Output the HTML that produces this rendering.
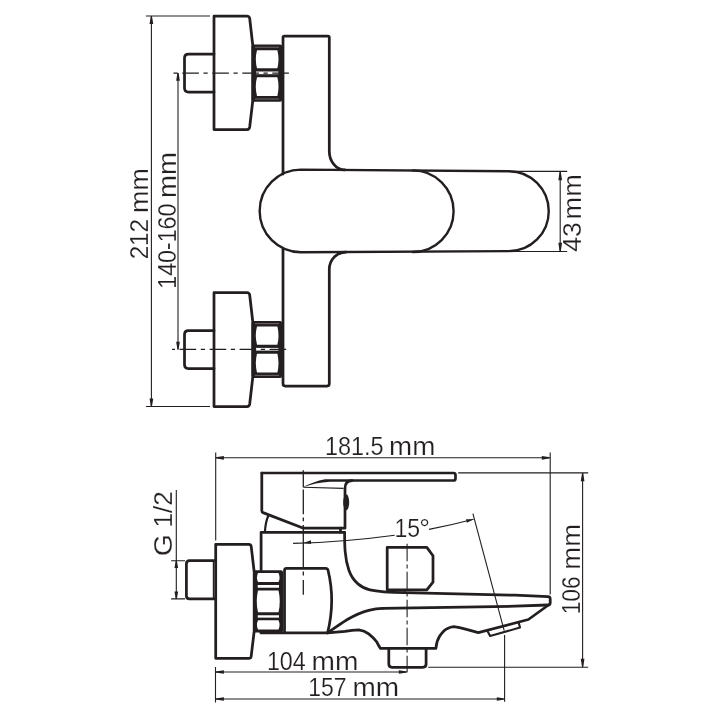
<!DOCTYPE html>
<html><head><meta charset="utf-8">
<style>
html,body{margin:0;padding:0;background:#fff;}
svg{display:block;will-change:transform}
text{font-family:"Liberation Sans",sans-serif;font-size:26.5px;fill:#231f20;stroke:#fff;stroke-width:0.2px;}
.m{fill:none;stroke:#231f20;stroke-width:2.75;stroke-linejoin:round;stroke-linecap:round}
.t{fill:none;stroke:#231f20;stroke-width:1.1}
.c{fill:none;stroke:#231f20;stroke-width:1.1;stroke-dasharray:16.6 4.6 4.2 4.6;stroke-dashoffset:22.4}
.a{fill:#231f20;stroke:none}
.k{fill:#231f20;stroke:none}
.w{fill:#fff;stroke:none}
</style></head>
<body>
<svg width="719" height="719" viewBox="0 0 719 719">
<rect width="719" height="719" fill="#fff"/>

<!-- ================= TOP VIEW ================= -->
<g id="top">
<!-- flanges -->
<path class="m" d="M214,16 H247 Q249.3,16 249.7,18.5 L252.8,45.5 V100.5 L249.7,127 Q249.3,129.5 247,129.5 H214 Z"/>
<path class="m" d="M214,292.5 H247 Q249.3,292.5 249.7,295 L252.8,322 V377 L249.7,404 Q249.3,406.5 247,406.5 H214 Z"/>
<!-- stubs -->
<path class="m" d="M214,54 H188.5 Q184.5,54 184.5,58 V88 Q184.5,92 188.5,92 H214"/>
<path class="m" d="M214,330.5 H188.5 Q184.5,330.5 184.5,334.5 V364.5 Q184.5,368.5 188.5,368.5 H214"/>
<!-- nuts -->
<g>
<rect class="k" x="251.5" y="44.6" width="30.6" height="57.1" rx="2"/>
<path class="w" d="M257,50.2 H277.4 Q279.6,59.2 277.4,68.3 H257 Q254.6,59.2 257,50.2Z"/>
<rect class="w" x="256" y="71.5" width="22.4" height="2.7"/>
<path class="w" d="M257,77.3 H277.4 Q279.6,86.7 277.4,96.1 H257 Q254.6,86.7 257,77.3Z"/>
<path d="M255,47.25 H279 M255,99 H279" stroke="#8c8785" stroke-width="0.7" fill="none"/>
</g>
<g transform="translate(0,276.4)">
<rect class="k" x="251.5" y="44.6" width="30.6" height="57.1" rx="2"/>
<path class="w" d="M257,50.2 H277.4 Q279.6,59.2 277.4,68.3 H257 Q254.6,59.2 257,50.2Z"/>
<rect class="w" x="256" y="71.5" width="22.4" height="2.7"/>
<path class="w" d="M257,77.3 H277.4 Q279.6,86.7 277.4,96.1 H257 Q254.6,86.7 257,77.3Z"/>
<path d="M255,47.25 H279 M255,99 H279" stroke="#8c8785" stroke-width="0.7" fill="none"/>
</g>
<!-- body -->
<path class="m" d="M283,174 V37.5 Q283,36.2 284.3,36.2 H328 Q329.3,36.2 329.3,37.5 V150.9 A15.6,18.9 0 0 0 344.9,169.9"/>
<path class="m" d="M283,248.5 V383.8 Q283,386 285.2,386 H327.1 Q329.3,386 329.3,383.8 V269.3 A16.7,17.2 0 0 1 346,252.1"/>
<!-- handle -->
<path class="m" style="stroke-width:2.4" d="M301,169.6 L508.8,171.2 A39.9,39.9 0 0 1 508.8,251.1 L301,252.3 A41.3,41.3 0 0 1 301,169.6 Z"/>
<path class="m" style="stroke-width:2.4" d="M412.8,170.4 A40.7,40.7 0 0 1 412.8,252"/>
<!-- center lines -->
<path class="c" style="stroke-dashoffset:20.4" d="M172.7,73.1 H290.6"/>
<path class="c" d="M172,349.4 H286.7"/>
<!-- dims -->
<path class="t" d="M145.9,16 H210 M145.9,406.5 H210 M151.4,16 V406.5 M178,73 V349.5"/>
<path class="a" d="M150.85,16 L149.55,24 H153.25 L151.95000000000002,16Z M150.85,406.5 L149.55,398.5 H153.25 L151.95000000000002,406.5Z M177.45,73.1 L176.15,80.69999999999999 H179.85 L178.55,73.1Z M177.45,349.4 L176.15,341.79999999999995 H179.85 L178.55,349.4Z"/>
<path class="t" d="M509,171.4 H567.2 M509,251.5 H567.2 M560.2,171.5 V251.5"/>
<path class="a" d="M559.6500000000001,171.4 L558.35,180.20000000000002 H562.0500000000001 L560.75,171.4Z M559.6500000000001,251.5 L558.35,242.7 H562.0500000000001 L560.75,251.5Z"/>
</g>

<!-- ================= SIDE VIEW ================= -->
<g id="side">
<!-- flange -->
<path class="m" d="M215.7,544.25 H248.7 Q250.9,544.25 251.2,546.4 L254.2,572 V631 L251.2,656.2 Q250.9,658.3 248.7,658.3 H215.7 Z"/>
<!-- stub -->
<path class="m" d="M215.7,560.7 H189.6 Q186.4,560.7 186.4,563.9 V595.7 Q186.4,598.9 189.6,598.9 H215.7"/>
<path class="m" style="stroke-width:1.6" d="M213.6,561 V598.6"/>
<!-- nut -->
<rect class="k" x="253.5" y="570.2" width="29.5" height="62.3" rx="2"/>
<path class="w" d="M258,573 H278.5 Q280.6,577.5 278.5,582 H258 Q255.9,577.5 258,573Z"/>
<rect class="w" x="257.75" y="585" width="21.25" height="2.75"/>
<path class="w" d="M258,590.5 H278.5 Q281,601.5 278.5,612.25 H258 Q255.5,601.5 258,590.5Z"/>
<rect class="w" x="257.75" y="615.25" width="21.25" height="2.4"/>
<path class="w" d="M258,620.25 H278.5 Q280.6,625 278.5,629.5 H258 Q255.9,625 258,620.25Z"/>
<!-- body block -->
<path class="m" d="M284.5,632.8 V570.5 Q284.5,568.4 286.6,568.4 H325.5 Q327.6,568.4 328.1,570.5 Q335.5,601 327.6,632.8 H260.8"/>
<!-- cylinder above -->
<path class="m" d="M261.1,570 V532.25 H344.6"/>
<path class="m" d="M344.6,532.25 C344.6,545 344.6,558 348.9,570.3 C353,582 362,588.3 369.8,589.8 C377,591.4 384,592.3 404.5,592.7"/>
<!-- handle -->
<path class="m" style="stroke-width:2.7" d="M261.8,473 H453.5 Q455.5,473 455.5,475 V478.5 Q455.5,480.5 453.5,480.5 L352,480.5"/>
<path class="m" d="M352,480.5 Q345,480.5 345,488.4 V528.2 H303.5 L263,512.6 Q261.8,512 261.8,510.5 V473"/>
<path class="m" d="M340.5,528.2 V532.2"/>
<path class="k" d="M303.1,487.3 Q313,481.6 325.1,479.3 H352 V481.8 H330 Q315,482.6 303.1,487.3Z"/>
<path class="t" style="stroke-width:1.3" d="M303.3,470.3 V487.3"/><path class="t" d="M303.3,487.3 L343.5,488.4"/>
<path class="m" style="stroke-width:2.2" d="M265,530.8 Q265.6,522 268.1,516.2"/>
<ellipse class="k" cx="346.2" cy="502.3" rx="3" ry="8"/>
<!-- diverter -->
<path class="m" d="M387.2,589.8 V547.4 H426.8 L433,555.7 V582.2 L426.8,589.8 Z"/>
<!-- spout -->
<path class="m" style="stroke-width:2.8" d="M404.5,592.7 L515,595.2 L548,596.6 Q550.2,596.7 550.2,599 V602.7 Q550.2,604.9 548,605 L515,606.2 L415,607.9 L382.6,608.3"/>
<path class="m" d="M327.6,632.8 C335,628 341,623.3 347.8,619.3 C355,615 362,612 368.7,610.3 C374,609 378,608.4 382.6,608.3"/>
<path class="m" d="M327.6,632.8 L345,631.4 Q352,630 358.9,629.8 Q364.5,630.5 368.7,633.9 Q374,638 377,642.3 Q379,646.5 380.5,648.4 H435.9 Q436.5,641 440,635.6 Q444,630 447,628.7 Q450.5,626.7 453.9,626.6 Q459,627 466.5,629.4 L478.3,632.6 L528.4,619.5 L548.5,605"/>
<!-- aerator -->
<path class="m" style="stroke-width:2.1" d="M487.3,630.8 L490.1,636 L520,627.6 L518.8,623"/>
<!-- shower outlet -->
<path class="m" d="M388.8,648.4 V664.1 Q388.8,667.3 392,667.3 H423 Q426.1,667.3 426.1,664.1 V648.4"/>
<!-- centre lines -->
<path class="c" style="stroke-dasharray:none;stroke-width:1.3" d="M303.3,489.4 V514.2 M303.3,517.6 V521.3 M303.3,525 V568 M303.3,571.4 V575.6 M303.3,580 V594.7"/>
<path class="c" style="stroke-dasharray:17.5 3.3 3.9 3.3;stroke-dashoffset:0" d="M407.1,543.8 V672.3"/>
<!-- dims -->
<path class="t" d="M215.7,452.5 V540.5 M215.5,667 V702.4 M550.2,452.5 V594.5 M216,457.8 H549 M458.2,472.9 H588.2 M428.2,667.2 H588.2 M582.6,473 V667 M216,672 H406 M216,699 H503.5 M504.6,635 V701.8 M472.9,513.7 L504.2,630.6"/>
<path class="a" d="M215.5,457.25 L223.9,455.95 V459.65000000000003 L215.5,458.35Z M550.2,457.25 L541.8000000000001,455.95 V459.65000000000003 L550.2,458.35Z M582.0500000000001,472.9 L580.75,481.29999999999995 H584.45 L583.15,472.9Z M582.0500000000001,667.2 L580.75,658.8000000000001 H584.45 L583.15,667.2Z M215.5,671.45 L223.9,670.15 V673.85 L215.5,672.55Z M407.2,671.45 L398.8,670.15 V673.85 L407.2,672.55Z M215.5,698.45 L223.9,697.15 V700.85 L215.5,699.55Z M504.6,698.45 L496.8,697.15 V700.85 L504.6,699.55Z"/>
<!-- G 1/2 -->
<path class="t" d="M176.3,490 V598.9 M171.1,560.7 H185 M171.1,598.9 H185"/>
<path class="a" d="M175.75,560.7 L174.45000000000002,568.1 H178.15 L176.85000000000002,560.7Z M175.75,598.9 L174.45000000000002,591.5 H178.15 L176.85000000000002,598.9Z"/>
<!-- 15 deg arc -->
<path class="t" d="M293.1,543.4 Q345,542 394.7,535.2 M429,529.4 Q452,525 473.5,519.3"/>
<path class="a" d="M303.3,542.9 l7.6,-2.6 l0.2,3.6z M473.6,519.3 l-7.6,-0.1 l0.9,3.6z"/>
</g>
<!--TEXT-->
<text x="324.91" y="455.00" font-size="25.43" textLength="58.67" lengthAdjust="spacingAndGlyphs">181.5</text>
<text x="389.11" y="455.00" font-size="25.43" textLength="46.22" lengthAdjust="spacingAndGlyphs">mm</text>
<text x="266.93" y="669.80" font-size="25.43" textLength="38.86" lengthAdjust="spacingAndGlyphs">104</text>
<text x="311.53" y="669.80" font-size="25.43" textLength="46.82" lengthAdjust="spacingAndGlyphs">mm</text>
<text x="308.25" y="696.20" font-size="25.43" textLength="38.30" lengthAdjust="spacingAndGlyphs">157</text>
<text x="352.44" y="696.20" font-size="25.43" textLength="46.60" lengthAdjust="spacingAndGlyphs">mm</text>
<text x="394.55" y="537.10" font-size="26.57" textLength="25.62" lengthAdjust="spacingAndGlyphs">15</text>
<text x="419.31" y="537.10" font-size="26.57" textLength="10.70" lengthAdjust="spacingAndGlyphs">°</text>
<text transform="translate(148.00,259.32) rotate(-90)" font-size="26.29" textLength="40.33" lengthAdjust="spacingAndGlyphs">212</text>
<text transform="translate(148.00,212.88) rotate(-90)" font-size="26.29" textLength="44.75" lengthAdjust="spacingAndGlyphs">mm</text>
<text transform="translate(176.10,288.67) rotate(-90)" font-size="26.29" textLength="85.07" lengthAdjust="spacingAndGlyphs">140-160</text>
<text transform="translate(176.10,197.93) rotate(-90)" font-size="26.29" textLength="45.95" lengthAdjust="spacingAndGlyphs">mm</text>
<text transform="translate(581.10,251.71) rotate(-90)" font-size="26.29" textLength="29.58" lengthAdjust="spacingAndGlyphs">43</text>
<text transform="translate(581.10,219.51) rotate(-90)" font-size="26.29" textLength="45.30" lengthAdjust="spacingAndGlyphs">mm</text>
<text transform="translate(171.80,556.13) rotate(-90)" font-size="26.14" textLength="22.16" lengthAdjust="spacingAndGlyphs">G</text>
<text transform="translate(171.80,527.49) rotate(-90)" font-size="26.14" textLength="36.30" lengthAdjust="spacingAndGlyphs">1/2</text>
<text transform="translate(579.50,614.33) rotate(-90)" font-size="26.00" textLength="37.82" lengthAdjust="spacingAndGlyphs">106</text>
<text transform="translate(579.50,569.63) rotate(-90)" font-size="26.00" textLength="45.79" lengthAdjust="spacingAndGlyphs">mm</text>
</svg>
</body></html>
